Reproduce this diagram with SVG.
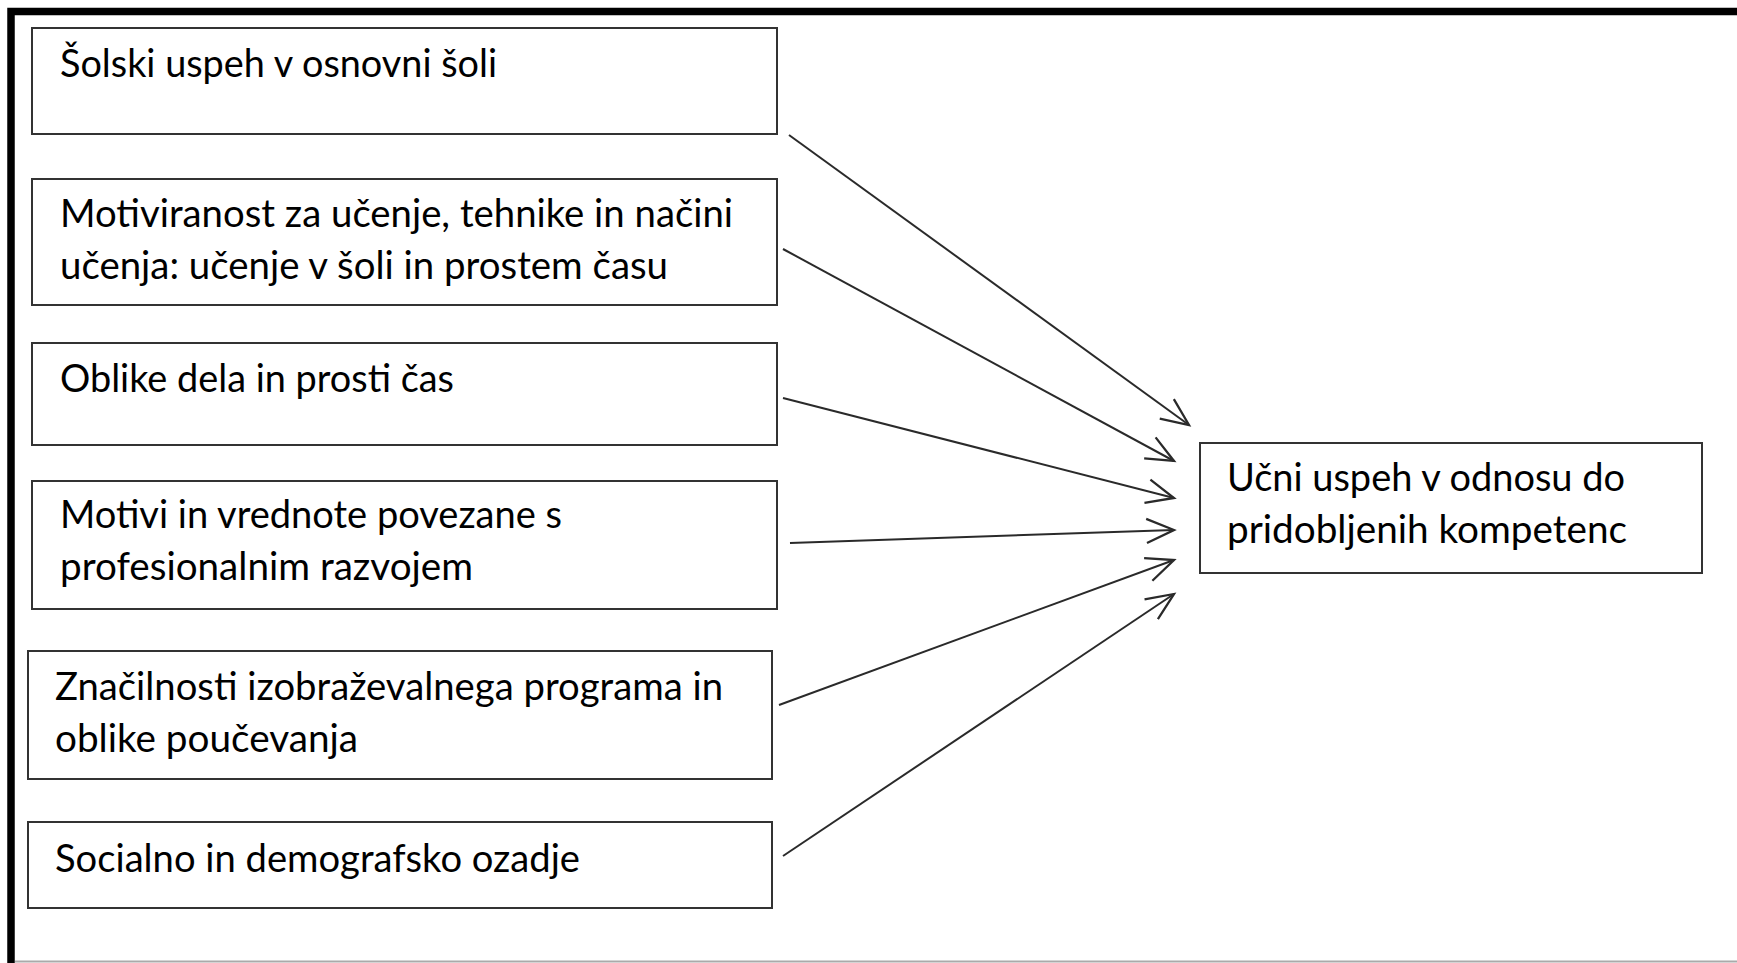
<svg xmlns="http://www.w3.org/2000/svg" width="1737" height="963" viewBox="0 0 1737 963">
<style>
.box{fill:#fff;stroke:#333;stroke-width:2}
.t{font-family:Lato,"Open Sans","Liberation Sans",sans-serif;font-size:39px;fill:#000}
.c{stroke:#2a2a2a;stroke-width:2;fill:none;marker-end:url(#ah)}
</style>
<defs>
<marker id="ah" markerUnits="userSpaceOnUse" markerWidth="40" markerHeight="40" viewBox="-30 -15 35 30" refX="0" refY="0" orient="auto">
<path d="M-24,-10.5 L0,0 L-24,10.5" fill="none" stroke="#2a2a2a" stroke-width="2"/>
</marker>
</defs>
<rect width="1737" height="963" fill="#fff"/>
<g id="frame">
<path d="M11,963 V11.5 H1737" fill="none" stroke="#000" stroke-width="7.5"/>
<line x1="15" y1="961.5" x2="1737" y2="961.5" stroke="#aaa" stroke-width="2"/>
</g>
<g id="n1"><rect class="box" x="32" y="28" width="745" height="106"/>
<text class="t" x="60" y="77" textLength="437" lengthAdjust="spacingAndGlyphs">Šolski uspeh v osnovni šoli</text></g>
<g id="n2"><rect class="box" x="32" y="179" width="745" height="126"/>
<text class="t" x="60" y="227" textLength="673" lengthAdjust="spacingAndGlyphs">Motiviranost za učenje, tehnike in načini</text>
<text class="t" x="60" y="279" textLength="608" lengthAdjust="spacingAndGlyphs">učenja: učenje v šoli in prostem času</text></g>
<g id="n3"><rect class="box" x="32" y="343" width="745" height="102"/>
<text class="t" x="60" y="392" textLength="394" lengthAdjust="spacingAndGlyphs">Oblike dela in prosti čas</text></g>
<g id="n4"><rect class="box" x="32" y="481" width="745" height="128"/>
<text class="t" x="60" y="528" textLength="502" lengthAdjust="spacingAndGlyphs">Motivi in vrednote povezane s</text>
<text class="t" x="60" y="580" textLength="413" lengthAdjust="spacingAndGlyphs">profesionalnim razvojem</text></g>
<g id="n5"><rect class="box" x="28" y="651" width="744" height="128"/>
<text class="t" x="55" y="700" textLength="668" lengthAdjust="spacingAndGlyphs">Značilnosti izobraževalnega programa in</text>
<text class="t" x="55" y="752" textLength="303" lengthAdjust="spacingAndGlyphs">oblike poučevanja</text></g>
<g id="n6"><rect class="box" x="28" y="822" width="744" height="86"/>
<text class="t" x="55" y="872" textLength="525" lengthAdjust="spacingAndGlyphs">Socialno in demografsko ozadje</text></g>
<g id="target"><rect class="box" x="1200" y="443" width="502" height="130"/>
<text class="t" x="1227" y="491" textLength="398" lengthAdjust="spacingAndGlyphs">Učni uspeh v odnosu do</text>
<text class="t" x="1227" y="543" textLength="400" lengthAdjust="spacingAndGlyphs">pridobljenih kompetenc</text></g>
<g id="connectors">
<line class="c" x1="789" y1="135" x2="1189" y2="425"/>
<line class="c" x1="783" y1="249" x2="1174" y2="461"/>
<line class="c" x1="783" y1="398" x2="1174" y2="498"/>
<line class="c" x1="790" y1="543" x2="1174" y2="530"/>
<line class="c" x1="779" y1="705" x2="1174" y2="560"/>
<line class="c" x1="783" y1="856" x2="1174" y2="594"/>
</g>
</svg>
